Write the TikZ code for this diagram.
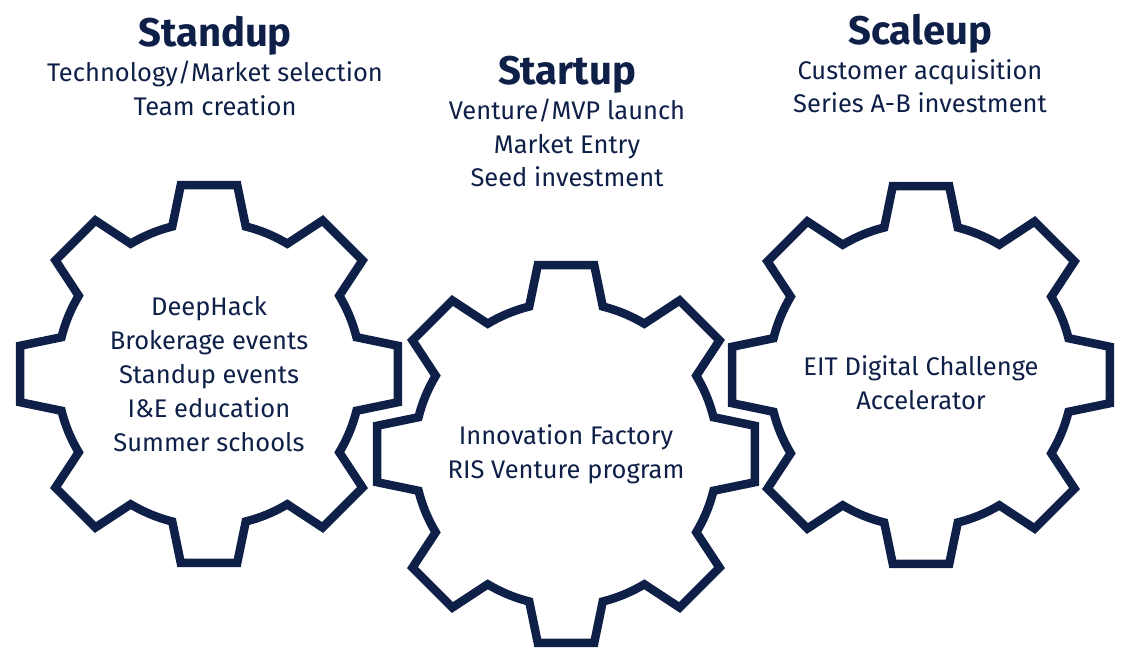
\documentclass[tikz,border=0pt]{standalone}
\usepackage{fontspec}
\setmainfont{Fira Sans}
\usetikzlibrary{positioning}
\definecolor{eitnavy}{RGB}{14,31,72}

\tikzset{
  gearline/.style={draw=eitnavy, line width=8.5pt, line join=miter},
  geartext/.style={text=eitnavy, align=center, inner sep=0pt, font=\fontsize{25.5}{34}\selectfont},
  stagehead/.style={text=eitnavy, anchor=base, inner sep=0pt, font=\bfseries\fontsize{40}{48}\selectfont},
  stagetext/.style={text=eitnavy, align=center, inner sep=0pt, font=\fontsize{25.5}{33.5}\selectfont}
}

\begin{document}
\begin{tikzpicture}[x=1pt,y=1pt]
\useasboundingbox (0,0) rectangle (1123,648);
% gear centres
\coordinate (standc) at (209,274);
\coordinate (startc) at (566,194);
\coordinate (scalec) at (921,273);
% the three gears
\foreach \c in {standc,startc,scalec}{
\begin{scope}[shift={(\c)}]
\draw[gearline] (-14:152) \foreach \a in {0,45,...,315}{
  -- (\a-14:152) -- (\a-8.5:191) -- (\a+8.5:191) -- (\a+14:152)
  arc[start angle=\a+14, end angle=\a+31, radius=152]} -- cycle;
\end{scope}
}
% gear texts
\node[geartext] (standtext) at (standc) {DeepHack\\Brokerage events\\Standup events\\I\&E education\\Summer schools};
\node[geartext] (starttext) at (startc) {Innovation Factory\\RIS Venture program};
\node[geartext, yshift=-8pt] (scaletext) at (scalec) {EIT Digital Challenge\\Accelerator};
% stage headings
\node[stagehead] (standhead) at (215,601) {Standup};
\node[stagetext, below=5pt of standhead] (standsub) {Technology/Market selection\\Team creation};
\node[stagehead] (starthead) at (567,563) {Startup};
\node[stagetext, below=5pt of starthead] (startsub) {Venture/MVP launch\\Market Entry\\Seed investment};
\node[stagehead] (scalehead) at (920,603) {Scaleup};
\node[stagetext, below=5pt of scalehead] (scalesub) {Customer acquisition\\Series A-B investment};
\end{tikzpicture}
\end{document}
